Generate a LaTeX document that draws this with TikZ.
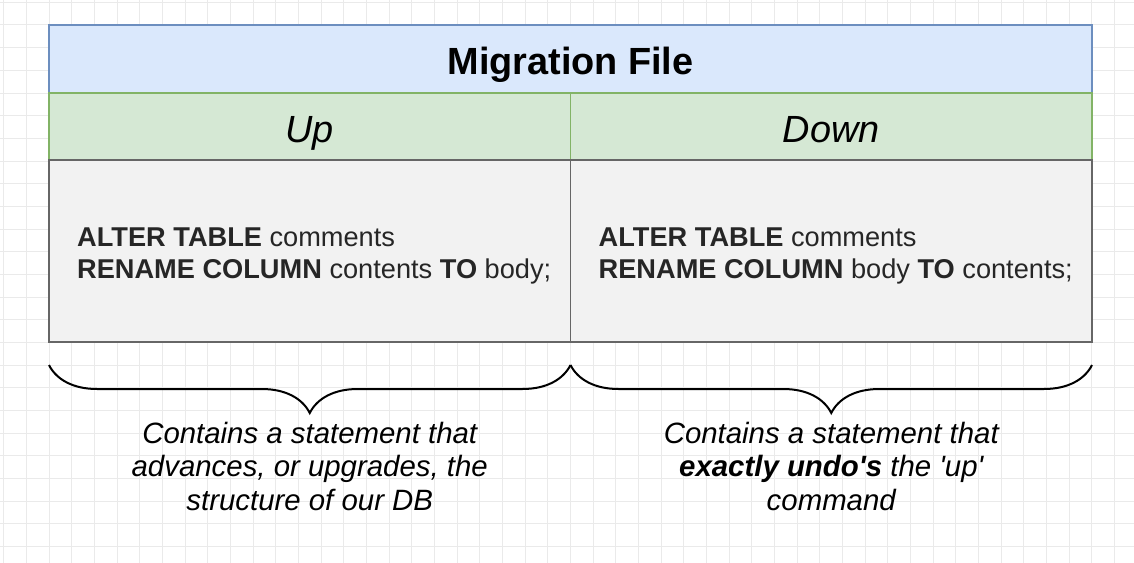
\documentclass[tikz,border=0pt]{standalone}
\usepackage{fontspec}
\setmainfont{Liberation Sans}
\usetikzlibrary{positioning, decorations.pathreplacing}
\definecolor{titlefill}{HTML}{DAE8FC}
\definecolor{titledraw}{HTML}{6C8EBF}
\definecolor{headfill}{HTML}{D5E8D4}
\definecolor{headdraw}{HTML}{82B366}
\definecolor{bodyfill}{HTML}{F2F2F2}
\definecolor{bodydraw}{HTML}{666666}
\definecolor{gridline}{HTML}{EAEAEA}
\newcommand{\fullwidth}{1043bp}
\newcommand{\cellwidth}{521.5bp}
\newcommand{\gap}{22.67}
\tikzstyle{titlebox} = [% title bar node
  rectangle,
  minimum width=\fullwidth,
  minimum height=68bp,
  outer sep=0pt,
  text centered,
  text height=34bp,
  text depth=2bp,
  draw=titledraw,
  fill=titlefill,
  line width=1.8bp,
  font=\fontsize{38}{45}\selectfont\bfseries
  ]
\tikzstyle{headbox} = [% up / down header node
  rectangle,
  minimum width=\cellwidth,
  minimum height=67bp,
  outer sep=0pt,
  text centered,
  text height=35bp,
  text depth=2bp,
  draw=headdraw,
  fill=headfill,
  line width=1.8bp,
  font=\fontsize{38}{45}\selectfont\itshape
  ]
\tikzstyle{bodybox} = [% statement cell node
  rectangle,
  minimum width=\cellwidth,
  minimum height=182bp,
  outer sep=0pt,
  draw=bodydraw,
  fill=bodyfill,
  line width=1.8bp
  ]
\tikzstyle{sqltext} = [% sql statement text
  inner sep=0pt,
  align=left,
  yshift=-5bp,
  text=black!85,
  font=\fontsize{27.3}{32}\selectfont
  ]
\tikzstyle{caption} = [% note under a brace
  inner sep=0pt,
  align=center,
  font=\fontsize{29.5}{33.5}\selectfont\itshape
  ]
\tikzstyle{bracket} = [% curly brace
  decorate,
  decoration={brace, amplitude=48bp},
  line width=2bp
  ]

\begin{document}
\begin{tikzpicture}[x=1bp, y=-1bp]
\useasboundingbox[fill=white] (0,0) rectangle (1134,563);

%%% Grid
\foreach \i in {-2,...,47}
  \draw[gridline, line width=1bp] (49+\i*\gap,0) -- (49+\i*\gap,563);
\foreach \j in {-1,...,24}
  \draw[gridline, line width=1bp] (0,25+\j*\gap) -- (1134,25+\j*\gap);

%%% Nodes
\node[titlebox] (title) at (570.5,59) {Migration File};
\node[headbox] (uphead) [below right=0pt and 0pt of title.south west] {Up};
\node[headbox] (downhead) [right=0pt of uphead] {Down};
\node[bodybox] (upbody) [below=0pt of uphead] {};
\node[bodybox] (downbody) [below=0pt of downhead] {};
\node[sqltext] (upsql) [right=28bp of upbody.west]
  {\textbf{ALTER TABLE} comments\\\textbf{RENAME COLUMN} contents \textbf{TO} body;};
\node[sqltext] (downsql) [right=28bp of downbody.west]
  {\textbf{ALTER TABLE} comments\\\textbf{RENAME COLUMN} body \textbf{TO} contents;};

%%% Braces
\draw[bracket] ([yshift=-23bp]upbody.south east) -- ([yshift=-23bp]upbody.south west);
\draw[bracket] ([yshift=-23bp]downbody.south east) -- ([yshift=-23bp]downbody.south west);

%%% Notes
\node[caption] (upnote) [below=80bp of upbody]
  {Contains a statement that\\advances, or upgrades, the\\structure of our DB};
\node[caption] (downnote) [below=80bp of downbody]
  {Contains a statement that\\\textbf{exactly undo\textquotesingle s} the \textquotesingle up\textquotesingle\\command};

\end{tikzpicture}
\end{document}
